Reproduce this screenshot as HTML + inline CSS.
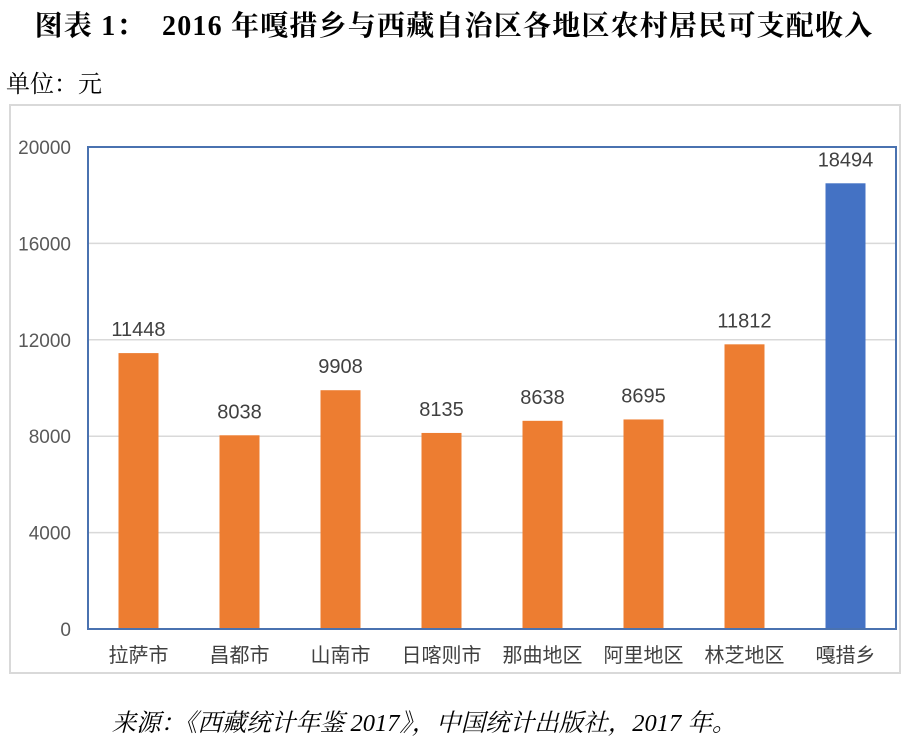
<!DOCTYPE html>
<html><head><meta charset="utf-8"><style>
body{margin:0;width:908px;height:741px;background:#fff;overflow:hidden;font-family:"Liberation Sans","Noto Sans CJK SC",sans-serif}
.t{position:absolute;white-space:nowrap}
</style></head><body>
<div class="t" style="left:0;width:908px;text-align:center;top:4px;font:bold 28px 'Liberation Serif','Noto Serif CJK SC',serif;letter-spacing:1.2px;color:#000">图表 1：&nbsp; 2016 年嘎措乡与西藏自治区各地区农村居民可支配收入</div>
<div class="t" style="left:6px;top:64px;font:24px 'Liberation Serif','Noto Serif CJK SC',serif;color:#000">单位：元</div>
<div style="position:absolute;left:9px;top:104px;width:888px;height:566px;border:2px solid #d9d9d9"></div>
<svg id="c" width="908" height="741" style="position:absolute;left:0;top:0"></svg>
<div class="t" style="left:-30px;width:908px;text-align:center;top:704px;font:italic 24.5px 'Liberation Serif','Noto Serif CJK SC',serif;color:#000">来源：《西藏统计年鉴 2017》，中国统计出版社，2017 年。</div>
<script>
const categories=["拉萨市","昌都市","山南市","日喀则市","那曲地区","阿里地区","林芝地区","嘎措乡"];
const values=[11448,8038,9908,8135,8638,8695,11812,18494];
const ticks=[0,4000,8000,12000,16000,20000];
const L=88,R=896,T=147,B=629,MAX=20000;
const y=v=>B-(v/MAX)*(B-T);
const bw=(R-L)/categories.length;
const x=i=>L+bw*(i+0.5);
const svg=document.getElementById('c');const ns='http://www.w3.org/2000/svg';
function mk(tag,a,txt){const e=document.createElementNS(ns,tag);for(const k in a)e.setAttribute(k,a[k]);if(txt!==undefined)e.textContent=txt;svg.appendChild(e);return e;}
ticks.forEach(t=>{
 const g=mk('line',{x1:L,x2:R,y1:y(t),y2:y(t),stroke:'#d9d9d9','stroke-width':1.5});
 
 
 const l=mk('text',{x:71,y:y(t)+7,'text-anchor':'end','font-size':19,fill:'#595959','font-family':'Liberation Sans, sans-serif'},String(t));
 
 
});
categories.forEach((c,i)=>{
 const v=values[i];
 const b=mk('rect',{x:x(i)-20,y:y(v),width:40,height:B-y(v),fill:i===categories.length-1?'#4472c4':'#ed7d31'});
 
 
 const vl=mk('text',{x:x(i),y:y(v)-17,'text-anchor':'middle','font-size':20,fill:'#404040','font-family':'Liberation Sans, sans-serif'},String(v));
 
 
 const cl=mk('text',{x:x(i),y:B+33,'text-anchor':'middle','font-size':20,fill:'#404040','font-family':'Liberation Sans, Noto Sans CJK SC, sans-serif'},c);
 
 
});
const f=mk('rect',{x:L,y:T,width:R-L,height:B-T,fill:'none',stroke:'#4a72b0','stroke-width':2});


</script>
</body></html>
